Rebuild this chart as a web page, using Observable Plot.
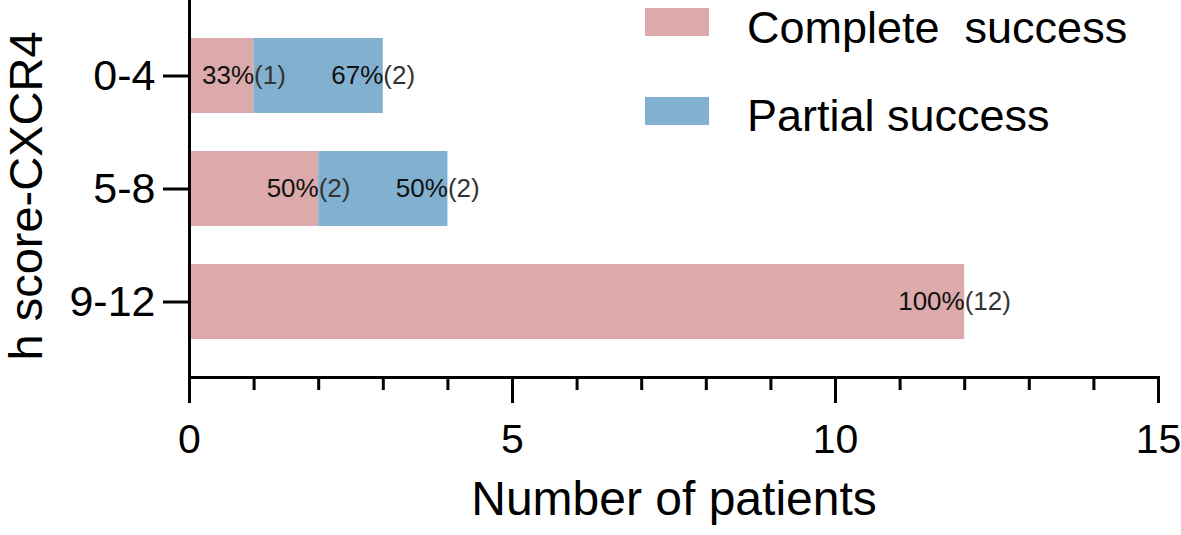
<!DOCTYPE html>
<html><head><meta charset="utf-8">
<script src="https://cdn.jsdelivr.net/npm/d3@7"></script>
<script src="https://cdn.jsdelivr.net/npm/@observablehq/plot@0.6"></script>
<style>
body{margin:0;background:#fff;}
#wrap{position:relative;width:1181px;height:535px;font-family:"Liberation Sans",Arial,sans-serif;}
#wrap svg{position:absolute;left:0;top:0;}
.sw{position:absolute;left:645px;width:64px;height:28px;}
.lt{position:absolute;left:747px;font-size:45px;line-height:45px;white-space:pre;color:#000;}
</style></head>
<body><div id="wrap"></div>
<script>
const categories = ["0-4", "5-8", "9-12"];
const groups = ["Complete  success", "Partial success"];
const colors = ["#dcaaaa", "#82b0d0"];
const complete = [1, 2, 12];
const partial = [2, 2, 0];
const completePct = ["33%", "50%", "100%"];
const partialPct = ["67%", "50%", "0%"];
const majorTicks = [0, 5, 10, 15];
const minorTicks = [0, 1, 2, 3, 4, 5, 6, 7, 8, 9, 10, 11, 12, 13, 14, 15];
const xLabel = "Number of patients";
const yLabel = "h score-CXCR4";

const rows = categories.flatMap((c, i) => [
  {cat: c, group: groups[0], value: complete[i], pct: completePct[i]},
  {cat: c, group: groups[1], value: partial[i], pct: partialPct[i]}
]).filter(d => d.value > 0);

const chart = Plot.plot({
  width: 1181, height: 535,
  marginLeft: 189, marginRight: 23, marginTop: 0, marginBottom: 158,
  style: {fontFamily: "'Liberation Sans', Arial, sans-serif", background: "transparent", color: "#000", overflow: "visible"},
  x: {domain: [0, 15]},
  y: {domain: categories, padding: 0.333},
  color: {domain: groups, range: colors},
  marks: [
    Plot.barX(rows, Plot.stackX({x: "value", y: "cat", fill: "group"})),
    Plot.text(rows, Plot.stackX2({x: "value", y: "cat", text: "pct", textAnchor: "end", fontSize: 26, fill: "#111"})),
    Plot.text(rows, Plot.stackX2({x: "value", y: "cat", text: d => `(${d.value})`, textAnchor: "start", fontSize: 26, fill: "#333"})),
    Plot.axisX({ticks: minorTicks, tickSize: 13, text: null, strokeWidth: 3, label: null}),
    Plot.axisX({ticks: majorTicks, tickSize: 26, tickPadding: 20, fontSize: 41, strokeWidth: 3, label: null, tickFormat: d => String(d)}),
    Plot.axisY({tickSize: 26, tickPadding: 8, fontSize: 43, strokeWidth: 3, label: null}),
    Plot.frame({anchor: "bottom", strokeWidth: 3, strokeLinecap: "square"}),
    Plot.frame({anchor: "left", strokeWidth: 3, strokeLinecap: "square"}),
    Plot.text([xLabel], {frameAnchor: "bottom", dy: 137, fontSize: 48}),
    Plot.text([yLabel], {frameAnchor: "left", textAnchor: "middle", rotate: -90, dx: -163, dy: 7, fontSize: 47})
  ]
});
const wrap = document.getElementById("wrap");
wrap.appendChild(chart);

const tops = [[8, 5], [97, 93]];
groups.forEach((g, i) => {
  const sw = document.createElement("div");
  sw.className = "sw"; sw.style.top = tops[i][0] + "px"; sw.style.background = colors[i];
  const t = document.createElement("div");
  t.className = "lt"; t.style.top = tops[i][1] + "px"; t.textContent = g;
  wrap.appendChild(sw); wrap.appendChild(t);
});
</script>
</body></html>
